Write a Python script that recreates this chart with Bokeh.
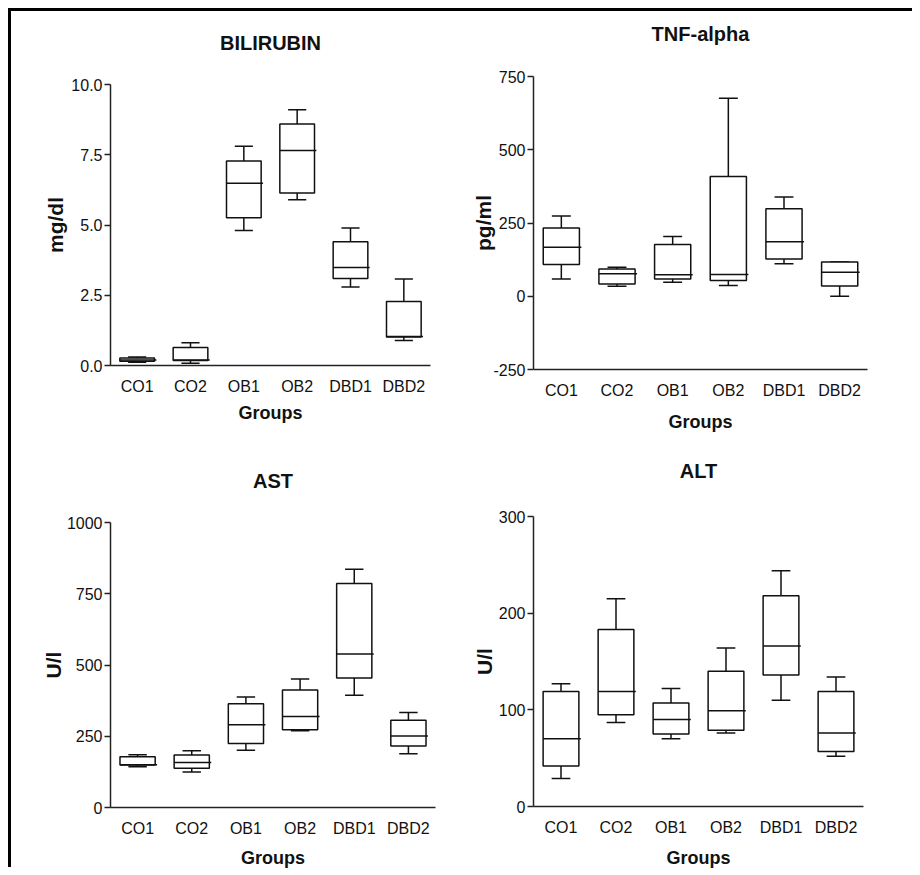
from bokeh.plotting import figure
from bokeh.models import FactorRange, Range1d, FixedTicker, ColumnDataSource, PrintfTickFormatter, Spacer, LinearAxis
from bokeh.transform import dodge
from bokeh.layouts import row, column
from bokeh.embed import file_html
from bokeh.resources import INLINE

groups = ["CO1", "CO2", "OB1", "OB2", "DBD1", "DBD2"]

# BILIRUBIN (mg/dl)
bili_min = [0.12, 0.08, 4.80, 5.90, 2.79, 0.89]
bili_q1 = [0.15, 0.18, 5.26, 6.14, 3.10, 1.01]
bili_med = [0.20, 0.20, 6.49, 7.65, 3.49, 1.03]
bili_q3 = [0.27, 0.64, 7.28, 8.59, 4.40, 2.28]
bili_max = [0.30, 0.81, 7.80, 9.10, 4.89, 3.08]

# TNF-alpha (pg/ml)
tnf_min = [59, 34, 48, 37, 111, 0]
tnf_q1 = [108, 42, 59, 54, 127, 35]
tnf_med = [167, 77, 73, 74, 186, 82]
tnf_q3 = [233, 93, 177, 409, 299, 117]
tnf_max = [274, 99, 204, 676, 339, 117]

# AST (U/l)
ast_min = [143, 125, 201, 269, 394, 189]
ast_q1 = [149, 138, 225, 273, 454, 216]
ast_med = [150, 158, 290, 319, 539, 251]
ast_q3 = [178, 184, 364, 412, 786, 306]
ast_max = [185, 199, 388, 451, 836, 333]

# ALT (U/l)
alt_min = [29, 87, 70, 76, 110, 52]
alt_q1 = [42, 95, 75, 79, 136, 57]
alt_med = [70, 119, 90, 99, 166, 76]
alt_q3 = [119, 183, 107, 140, 218, 119]
alt_max = [127, 215, 122, 164, 244, 134]

FONT = "Liberation Sans"
INK = "#111111"


def make_panel(spec):
    fl, ft, fw, fh = spec["frame"]
    ox, oy, w, h = spec["fig"]
    lo, hi = spec["yrange"]
    p = figure(x_range=FactorRange(*groups), y_range=Range1d(lo, hi),
               frame_width=fw, frame_height=fh,
               min_border_left=fl - ox, min_border_right=ox + w - fl - fw,
               min_border_top=ft - oy, min_border_bottom=oy + h - ft - fh,
               toolbar_location=None, output_backend="svg")
    p.outline_line_color = None
    p.grid.visible = False
    p.background_fill_color = "white"
    p.border_fill_color = "white"

    xa = p.below[0]
    ya = p.left[0]
    for ax in (xa, ya):
        ax.axis_line_width = 1.5
        ax.axis_line_color = "#222222"
        ax.major_label_text_font = FONT
        ax.major_label_text_font_size = "16px"
        ax.major_label_text_color = INK
        ax.minor_tick_line_color = None
        ax.axis_label_text_font = FONT
        ax.axis_label_text_font_style = "bold"
        ax.axis_label_text_color = INK

    xa.major_tick_line_color = None
    xa.major_tick_out = 0
    xa.major_tick_in = 0
    xa.major_label_standoff = 12
    xa.axis_label = "Groups"
    xa.axis_label_text_font_size = "18px"
    xa.axis_label_standoff = spec["xlabel_standoff"]

    ya.ticker = FixedTicker(ticks=spec["ticks"])
    ya.formatter = PrintfTickFormatter(format=spec["fmt"])
    ya.major_tick_out = 6
    ya.major_tick_in = 0
    ya.major_tick_line_width = 1.5
    ya.major_tick_line_color = "#222222"
    ya.major_label_standoff = 2
    ya.axis_label = spec["ylabel"]
    ya.axis_label_text_font_size = "21px"
    ya.axis_label_standoff = spec["ylabel_standoff"]

    # title drawn as the label of an empty axis above the frame
    tax = LinearAxis(axis_label=spec["title"], ticker=FixedTicker(ticks=[]),
                     axis_line_color=None, major_tick_line_color=None,
                     minor_tick_line_color=None, major_tick_out=0, major_tick_in=0,
                     major_label_standoff=0, major_label_text_font_size="0px",
                     axis_label_text_font=FONT, axis_label_text_font_style="bold",
                     axis_label_text_font_size="20px", axis_label_text_color=INK,
                     axis_label_standoff=spec["title_standoff"])
    p.add_layout(tax, "above")

    src = ColumnDataSource(dict(g=groups, lo=spec["data"][0], q1=spec["data"][1],
                                med=spec["data"][2], q3=spec["data"][3], hi=spec["data"][4]))
    lw = 1.5
    p.segment(x0="g", y0="q3", x1="g", y1="hi", line_color=INK, line_width=lw, source=src)
    p.segment(x0="g", y0="lo", x1="g", y1="q1", line_color=INK, line_width=lw, source=src)
    p.segment(x0=dodge("g", -0.17, range=p.x_range), y0="hi",
              x1=dodge("g", 0.17, range=p.x_range), y1="hi",
              line_color=INK, line_width=lw, source=src)
    p.segment(x0=dodge("g", -0.17, range=p.x_range), y0="lo",
              x1=dodge("g", 0.17, range=p.x_range), y1="lo",
              line_color=INK, line_width=lw, source=src)
    p.vbar(x="g", top="q3", bottom="q1", width=0.65, fill_color="white",
           line_color=INK, line_width=lw, source=src)
    p.segment(x0=dodge("g", -0.325, range=p.x_range), y0="med",
              x1=dodge("g", 0.36, range=p.x_range), y1="med",
              line_color=INK, line_width=lw, source=src)
    return p


specs = [
    dict(fig=(11, 11, 449, 426), frame=(110, 84, 320, 281), yrange=(0, 10),
         ticks=[0, 2.5, 5, 7.5, 10], fmt="%.1f", title="BILIRUBIN", ylabel="mg/dl",
         title_standoff=31, xlabel_standoff=5, ylabel_standoff=1,
         data=(bili_min, bili_q1, bili_med, bili_q3, bili_max)),
    dict(fig=(460, 11, 452, 426), frame=(533, 76, 334, 293), yrange=(-250, 750),
         ticks=[-250, 0, 250, 500, 750], fmt="%d", title="TNF-alpha", ylabel="pg/ml",
         title_standoff=32, xlabel_standoff=10, ylabel_standoff=-5,
         data=(tnf_min, tnf_q1, tnf_med, tnf_q3, tnf_max)),
    dict(fig=(11, 437, 449, 430), frame=(110, 522, 325, 285), yrange=(0, 1000),
         ticks=[0, 250, 500, 750, 1000], fmt="%d", title="AST", ylabel="U/l",
         title_standoff=31, xlabel_standoff=8, ylabel_standoff=-1,
         data=(ast_min, ast_q1, ast_med, ast_q3, ast_max)),
    dict(fig=(460, 437, 452, 430), frame=(533, 516, 330, 290), yrange=(0, 300),
         ticks=[0, 100, 200, 300], fmt="%d", title="ALT", ylabel="U/l",
         title_standoff=35, xlabel_standoff=9, ylabel_standoff=0,
         data=(alt_min, alt_q1, alt_med, alt_q3, alt_max)),
]

panels = [make_panel(s) for s in specs]

top_bar = Spacer(width=901, height=3, styles={"background-color": "black"})
left_bar = Spacer(width=3, height=859, styles={"background-color": "black"})
row1 = row(column(panels[0]), column(panels[1]))
row2 = row(column(panels[2]), column(panels[3]))
framed = row(left_bar, column(top_bar, row1, row2))
layout = row(Spacer(width=8, height=867),
             column(Spacer(width=904, height=8), framed))

open("out.html", "w").write(file_html(layout, INLINE))
